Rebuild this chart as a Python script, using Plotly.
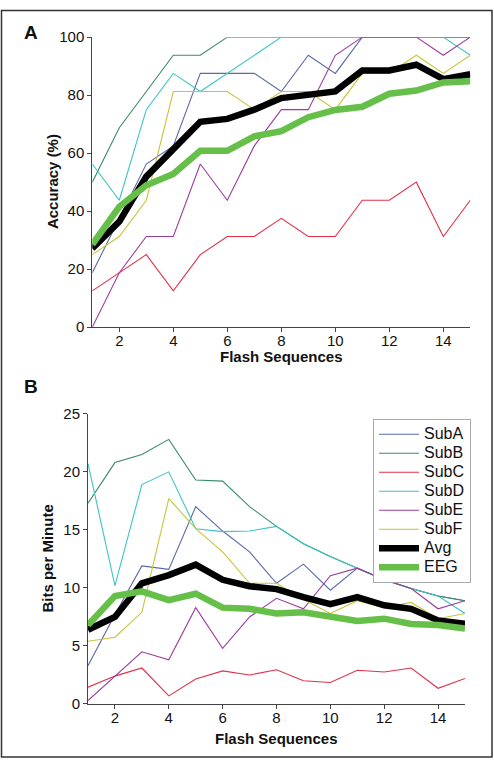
import plotly.graph_objects as go

W, H = 494, 768
seq = list(range(1, 16))

# Panel A: accuracy (%)
acc_A = [18.75, 37.5, 56.25, 62.5, 87.5, 87.5, 87.5, 81.25, 93.75, 87.5, 100, 100, 100, 100, 100]
acc_B = [50, 68.75, 81.25, 93.75, 93.75, 100, 100, 100, 100, 100, 100, 100, 100, 100, 100]
acc_C = [12.5, 18.75, 25, 12.5, 25, 31.25, 31.25, 37.5, 31.25, 31.25, 43.75, 43.75, 50, 31.25, 43.75]
acc_D = [56.25, 43.75, 75, 87.5, 81.25, 87.5, 93.75, 100, 100, 100, 100, 100, 100, 100, 93.75]
acc_E = [0, 18.75, 31.25, 31.25, 56.25, 43.75, 62.5, 75, 75, 93.75, 100, 100, 100, 93.75, 100]
acc_F = [25, 31.25, 43.75, 81.25, 81.25, 81.25, 75, 81.25, 81.25, 75, 87.5, 87.5, 93.75, 87.5, 93.75]
acc_Avg = [27.1, 36.4, 51.9, 61.4, 70.8, 71.8, 75.0, 79.0, 80.1, 81.3, 88.5, 88.5, 90.5, 85.5, 87.2]
acc_EEG = [28.5, 41.5, 48.9, 52.8, 60.8, 60.8, 65.8, 67.6, 72.4, 74.9, 76.0, 80.5, 81.6, 84.4, 84.8]

# Panel B: bits per minute
bpm_A = [3.3, 7.7, 11.9, 11.6, 17.0, 14.9, 13.1, 10.4, 12.05, 9.8, 11.7, 10.7, 9.95, 9.3, 8.9]
bpm_B = [17.3, 20.8, 21.5, 22.8, 19.3, 19.2, 17.0, 15.3, 13.8, 12.7, 11.7, 10.7, 9.95, 9.3, 8.9]
bpm_C = [1.45, 2.4, 3.1, 0.7, 2.15, 2.85, 2.5, 2.95, 2.0, 1.85, 2.9, 2.75, 3.1, 1.35, 2.2]
bpm_D = [20.7, 10.2, 18.9, 20.0, 15.1, 14.85, 14.9, 15.3, 13.8, 12.7, 11.7, 10.7, 9.95, 9.3, 7.8]
bpm_E = [0.3, 2.4, 4.5, 3.8, 8.3, 4.8, 7.5, 9.1, 8.2, 11.05, 11.7, 10.7, 9.95, 8.2, 8.9]
bpm_F = [5.4, 5.75, 7.9, 17.7, 15.1, 13.1, 10.4, 10.4, 9.0, 7.8, 8.9, 8.3, 8.75, 7.35, 7.8]
bpm_Avg = [6.4, 7.5, 10.4, 11.1, 12.0, 10.7, 10.15, 9.9, 9.2, 8.6, 9.2, 8.5, 8.2, 7.2, 6.9]
bpm_EEG = [6.8, 9.3, 9.7, 8.95, 9.5, 8.3, 8.2, 7.8, 7.9, 7.5, 7.15, 7.35, 6.9, 6.8, 6.5]

names = ["SubA", "SubB", "SubC", "SubD", "SubE", "SubF", "Avg", "EEG"]
colors = ["#5a6aa8", "#3a8a68", "#e2304a", "#3cc4c4", "#9a3e9e", "#c8c43a", "#000000", "#66bf48"]
widths = [1.1, 1.1, 1.1, 1.1, 1.1, 1.1, 6.5, 6.5]

acc_series = [acc_A, acc_B, acc_C, acc_D, acc_E, acc_F, acc_Avg, acc_EEG]
bpm_series = [bpm_A, bpm_B, bpm_C, bpm_D, bpm_E, bpm_F, bpm_Avg, bpm_EEG]

FONT = "Liberation Sans, Arial, Helvetica, sans-serif"

fig = go.Figure()
for n, c, w, ys in zip(names, colors, widths, acc_series):
    fig.add_trace(go.Scatter(x=seq, y=ys, mode="lines", name=n, showlegend=False,
                             line=dict(color=c, width=w), xaxis="x", yaxis="y"))
for n, c, w, ys in zip(names, colors, widths, bpm_series):
    fig.add_trace(go.Scatter(x=seq, y=ys, mode="lines",
                             name='<span style="font-size:16px">%s</span>' % n, showlegend=True,
                             line=dict(color=c, width=w), xaxis="x2", yaxis="y2"))

def px_x(p):
    return p / W

def px_y(p):
    return 1 - p / H

axis_common = dict(showline=True, linecolor="#444", linewidth=1, ticks="outside", ticklen=4,
                   tickcolor="#444", tickwidth=1, showgrid=False, zeroline=False,
                   tickfont=dict(family=FONT, size=15, color="#111"))

fig.update_layout(
    width=W, height=H,
    margin=dict(l=0, r=0, t=0, b=0),
    paper_bgcolor="white", plot_bgcolor="white",
    font=dict(family=FONT, color="#111"),
    xaxis=dict(domain=[px_x(92.3), px_x(470.3)], range=[1, 15], tickvals=[2, 4, 6, 8, 10, 12, 14],
               anchor="y", ticklabelstandoff=-4, **axis_common),
    yaxis=dict(domain=[px_y(325.3), px_y(28.8)], range=[0, 100], tickvals=[0, 20, 40, 60, 80, 100],
               anchor="x", **axis_common),
    xaxis2=dict(domain=[px_x(88), px_x(465)], range=[1, 15], tickvals=[2, 4, 6, 8, 10, 12, 14],
                anchor="y2", ticklabelstandoff=-4, **axis_common),
    yaxis2=dict(domain=[px_y(710.7), px_y(414)], range=[0, 25], tickvals=[0, 5, 10, 15, 20, 25],
                anchor="x2", **axis_common),
    legend=dict(x=px_x(373), y=px_y(419), xanchor="left", yanchor="top",
                bgcolor="white", bordercolor="#aaaaaa", borderwidth=1, itemwidth=40,
                font=dict(family=FONT, size=12.2, color="#111"), tracegroupgap=0),
    showlegend=True,
)

annots = [
    dict(text="<b>A</b>", x=px_x(31), y=px_y(24.5), size=19),
    dict(text="<b>B</b>", x=px_x(30.5), y=px_y(386.5), size=19),
    dict(text="<b>Flash Sequences</b>", x=px_x(281.3), y=px_y(355.5), size=15),
    dict(text="<b>Flash Sequences</b>", x=px_x(276.5), y=px_y(746.5), size=15),
]
for a in annots:
    fig.add_annotation(text=a["text"], x=a["x"], y=a["y"], xref="paper", yref="paper",
                       xanchor="center", yanchor="middle", showarrow=False,
                       font=dict(family=FONT, size=a["size"], color="#111"))
fig.add_annotation(text="<b>Accuracy (%)</b>", x=px_x(52), y=px_y(177), xref="paper", yref="paper",
                   xanchor="center", yanchor="middle", showarrow=False, textangle=-90,
                   font=dict(family=FONT, size=15, color="#111"))
fig.add_annotation(text="<b>Bits per Minute</b>", x=px_x(48), y=px_y(562), xref="paper", yref="paper",
                   xanchor="center", yanchor="middle", showarrow=False, textangle=-90,
                   font=dict(family=FONT, size=15, color="#111"))

# thin frame around the whole figure (as in the reference image)
fig.add_shape(type="rect", xref="paper", yref="paper",
              x0=px_x(1.5), x1=px_x(492), y0=px_y(765), y1=px_y(1.5),
              line=dict(color="#333", width=1.5), fillcolor="rgba(0,0,0,0)", layer="below")

# remove the browser's default 8px body margin so the figure fills the window exactly
fig.write_html("out.html", config={"displayModeBar": False},
               post_script="document.body.style.margin='0px';")
